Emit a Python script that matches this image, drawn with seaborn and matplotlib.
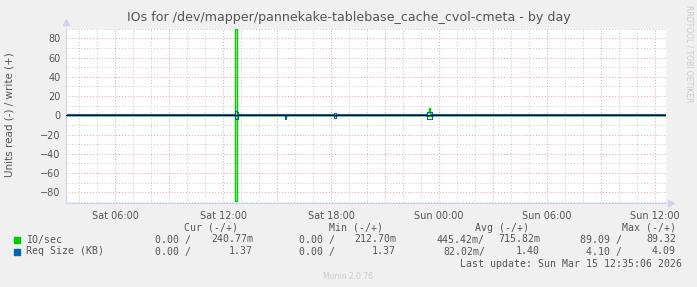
import numpy as np
import pandas as pd
import matplotlib
matplotlib.use("Agg")
import matplotlib.pyplot as plt
import matplotlib.dates as mdates
from matplotlib.ticker import FuncFormatter, MultipleLocator
import seaborn as sns

# ---------------- data ----------------
t_start = "2026-03-14 03:20"
t_end = "2026-03-15 12:35"
sample_freq = "5min"

# flat baselines
io_read_base = 0.0
io_write_base = 0.5
req_read_base = 0.0
req_write_base = 1.38

# isolated events: time, IO read, IO write, Req read, Req write
event_times = ["2026-03-14 12:45", "2026-03-14 12:50", "2026-03-14 15:30",
               "2026-03-14 18:15", "2026-03-14 23:25", "2026-03-14 23:30",
               "2026-03-14 23:35"]
event_io_read = [89.09, 0.0, 1.5, 0.3, 0.8, 1.0, 0.5]
event_io_write = [89.32, 0.5, 0.6, 0.6, 3.0, 7.5, 1.0]
event_req_read = [4.10, 3.5, 3.5, 3.0, 3.5, 3.5, 3.5]
event_req_write = [4.09, 3.5, 1.4, 2.5, 3.5, 3.5, 3.5]

y_ticks = [-80, -60, -40, -20, 0, 20, 40, 60, 80]

legend_rows = ["IO/sec", "Req Size (KB)"]
legend_cur = [("0.00 /", "240.77m"), ("0.00 /", "1.37")]
legend_min = [("0.00 /", "212.70m"), ("0.00 /", "1.37")]
legend_avg = [("445.42m/", "715.82m"), ("82.02m/", "1.40")]
legend_max = [("89.09 /", "89.32"), ("4.10 /", "4.09")]

title = "IOs for /dev/mapper/pannekake-tablebase_cache_cvol-cmeta - by day"
ylabel = "Units read (-) / write (+)"
last_update = "Last update: Sun Mar 15 12:35:06 2026"

GREEN = "#00CC00"
BLUE = "#0066B3"

# ---------------- build series ----------------
times = pd.date_range(t_start, t_end, freq=sample_freq)
df = pd.DataFrame({"time": times})
df["io_read"] = io_read_base
df["io_write"] = io_write_base
df["req_read"] = req_read_base
df["req_write"] = req_write_base
ev = pd.DataFrame({"time": pd.to_datetime(event_times),
                   "io_read": event_io_read, "io_write": event_io_write,
                   "req_read": event_req_read, "req_write": event_req_write})
df = df.set_index("time")
for _, r in ev.iterrows():
    for c in ["io_read", "io_write", "req_read", "req_write"]:
        df.loc[r["time"], c] = r[c]
df = df.reset_index()
df["io_read_neg"] = -df["io_read"]
df["req_read_neg"] = -df["req_read"]

# ---------------- figure ----------------
sns.set_theme(style="white")
plt.rcParams["font.family"] = ["DejaVu Sans"]
W, H = 697, 287
fig = plt.figure(figsize=(W / 100, H / 100), dpi=100)
fig.patch.set_facecolor("#F0F0F0")

def px(x, y):
    return x / W, 1 - y / H

left, right, top, bottom = 66, 666, 28.5, 203
ax = fig.add_axes([left / W, 1 - bottom / H, (right - left) / W, (bottom - top) / H])
ax.set_facecolor("white")

xmin = pd.Timestamp("2026-03-14 03:16:40")
xmax = pd.Timestamp("2026-03-15 12:36:40")

lw = 0.8
ds = "steps-pre"
sns.lineplot(data=df, x="time", y="io_read_neg", color=GREEN, lw=1.05, ax=ax, legend=False,
             drawstyle=ds)
sns.lineplot(data=df, x="time", y="io_write", color=GREEN, lw=1.05, ax=ax, legend=False,
             drawstyle=ds)
sns.lineplot(data=df, x="time", y="req_read_neg", color=BLUE, lw=lw, ax=ax, legend=False,
             drawstyle=ds, zorder=3)
ax.axhline(0, color="black", lw=0.9, zorder=3.2)
sns.lineplot(data=df, x="time", y="req_write", color=BLUE, lw=lw, ax=ax, legend=False,
             drawstyle=ds, zorder=3.5)

ax.set_xlim(xmin, xmax)
ax.set_ylim(-91.1, 90.2)

# grid & ticks
ax.xaxis.set_major_locator(mdates.HourLocator(byhour=range(0, 24, 3)))
ax.xaxis.set_minor_locator(mdates.HourLocator())
def xfmt(v, pos):
    d = mdates.num2date(v)
    return d.strftime("%a %H:%M") if d.hour % 6 == 0 else ""
ax.xaxis.set_major_formatter(FuncFormatter(xfmt))
ax.set_yticks(y_ticks)
ax.yaxis.set_minor_locator(MultipleLocator(10))
ax.grid(which="major", color="#E4A0A0", linestyle=(0, (1, 2)), lw=0.7)
ax.grid(which="minor", color="#C8C8C8", linestyle=(0, (1, 2)), lw=0.7)
ax.set_axisbelow(True)
ax.tick_params(axis="both", which="major", labelsize=7, colors="#555555",
               length=2, width=0.7, pad=2, color="#E8A0A0")
ax.tick_params(axis="both", which="minor", length=2, width=0.7, color="#CFCFCF")
ax.tick_params(axis="x", pad=4)
ax.set_xlabel("")
ax.set_ylabel("")

for s in ["top", "right"]:
    ax.spines[s].set_visible(False)
for s in ["left", "bottom"]:
    ax.spines[s].set_color("#D0D0F0")
    ax.spines[s].set_linewidth(0.8)
ax.plot([0], [1.035], marker="^", ms=4, color="#D0D0F0", transform=ax.transAxes, clip_on=False)
ax.plot([1.008], [0], marker=">", ms=4, color="#D0D0F0", transform=ax.transAxes, clip_on=False)

# texts
fig.text(*px(349, 18), title, ha="center", va="center", fontsize=9.1, color="#555555")
fig.text(*px(10, 115), ylabel, ha="center", va="center", rotation=90, fontsize=7.5, color="#555555")
fig.text(*px(689, 5), "RRDTOOL / TOBI OETIKER", ha="center", va="top", rotation=270,
         fontsize=5.5, color="#CCCCCC")

mono = {"family": "DejaVu Sans Mono", "fontsize": 7.1, "color": "#555555"}
fig.text(*px(238, 228), "Cur (-/+)", ha="right", va="center", **mono)
fig.text(*px(383, 228), "Min (-/+)", ha="right", va="center", **mono)
fig.text(*px(529, 228), "Avg (-/+)", ha="right", va="center", **mono)
fig.text(*px(676, 228), "Max (-/+)", ha="right", va="center", **mono)
row_y = [239.5, 251.5]
colors = [GREEN, BLUE]
for i, name in enumerate(legend_rows):
    y = row_y[i]
    fig.patches.append(plt.Rectangle(px(14, y + 3), 6 / W, 6 / H, transform=fig.transFigure,
                                     color=colors[i], figure=fig))
    fig.text(*px(26, y), name, ha="left", va="center", **mono)
    fig.text(*px(191, y), legend_cur[i][0], ha="right", va="center", **mono)
    fig.text(*px(253, y), legend_cur[i][1], ha="right", va="center", **mono)
    fig.text(*px(335, y), legend_min[i][0], ha="right", va="center", **mono)
    fig.text(*px(396, y), legend_min[i][1], ha="right", va="center", **mono)
    fig.text(*px(485, y), legend_avg[i][0], ha="right", va="center", **mono)
    fig.text(*px(540, y), legend_avg[i][1], ha="right", va="center", **mono)
    fig.text(*px(622, y), legend_max[i][0], ha="right", va="center", **mono)
    fig.text(*px(676, y), legend_max[i][1], ha="right", va="center", **mono)
fig.text(*px(682, 264), last_update, ha="right", va="center", **mono)
fig.text(*px(348, 276.5), "Munin 2.0.76", ha="center", va="center", fontsize=5.5, color="#CCCCCC")

fig.savefig("out.png", dpi=100, facecolor=fig.get_facecolor())
